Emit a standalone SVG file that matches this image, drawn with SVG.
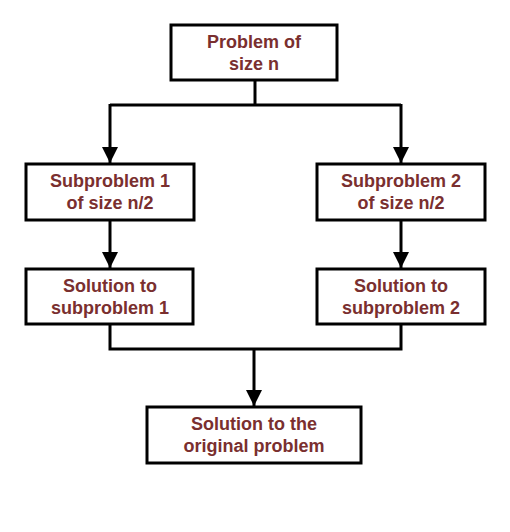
<svg xmlns="http://www.w3.org/2000/svg" width="510" height="532" viewBox="0 0 510 532">
<style>
.box{fill:#fff;stroke:#000;stroke-width:3}
.t{font-family:"Liberation Sans",Arial,sans-serif;font-weight:bold;font-size:18px;fill:#7a2f2f;text-anchor:middle}
.c{fill:none;stroke:#000;stroke-width:3}
</style>
<defs>
<marker id="ah" viewBox="0 0 16 16" refX="16" refY="8" markerWidth="16" markerHeight="16" markerUnits="userSpaceOnUse" orient="auto">
<path d="M0,0 L16,8 L0,16 Z" fill="#000"/>
</marker>
</defs>
<rect width="510" height="532" fill="#fff"/>
<g id="connectors">
<path class="c" d="M255,80 V105"/>
<path class="c" d="M110,105 H401"/>
<path class="c" d="M110,104 V163" marker-end="url(#ah)"/>
<path class="c" d="M401,104 V163" marker-end="url(#ah)"/>
<path class="c" d="M110,220 V268" marker-end="url(#ah)"/>
<path class="c" d="M401,220 V268" marker-end="url(#ah)"/>
<path class="c" d="M110,324 V349 H401 V324"/>
<path class="c" d="M254,349 V406" marker-end="url(#ah)"/>
</g>
<g id="n1"><rect class="box" x="171" y="25" width="166" height="55"/>
<text class="t" x="254" y="48">Problem of</text><text class="t" x="254" y="70">size n</text></g>
<g id="n2"><rect class="box" x="26" y="164" width="168" height="56"/>
<text class="t" x="110" y="187">Subproblem 1</text><text class="t" x="110" y="209">of size n/2</text></g>
<g id="n3"><rect class="box" x="317" y="164" width="168" height="56"/>
<text class="t" x="401" y="187">Subproblem 2</text><text class="t" x="401" y="209">of size n/2</text></g>
<g id="n4"><rect class="box" x="26" y="269" width="167" height="55"/>
<text class="t" x="110" y="292">Solution to</text><text class="t" x="110" y="314">subproblem 1</text></g>
<g id="n5"><rect class="box" x="317" y="269" width="168" height="55"/>
<text class="t" x="401" y="292">Solution to</text><text class="t" x="401" y="314">subproblem 2</text></g>
<g id="n6"><rect class="box" x="147" y="407" width="214" height="56"/>
<text class="t" x="254" y="430">Solution to the</text><text class="t" x="254" y="452">original problem</text></g>
</svg>
